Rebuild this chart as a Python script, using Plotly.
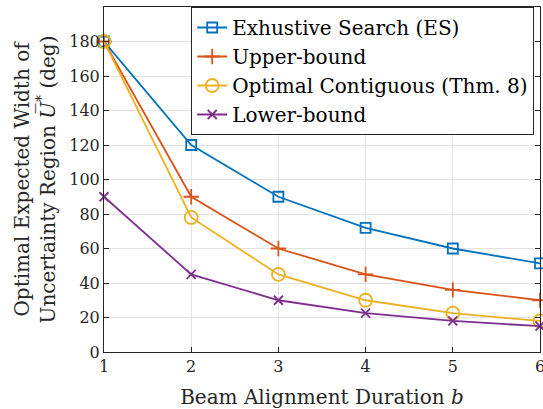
import plotly.graph_objects as go

b = [1, 2, 3, 4, 5, 6]
es = [180, 120, 90, 72, 60, 51.4]
upper = [180, 90, 60, 45, 36, 30]
contig = [180, 78, 45, 30, 22.5, 18]
lower = [90, 45, 30, 22.5, 18, 15]

names = ["Exhustive Search (ES)", "Upper-bound", "Optimal Contiguous (Thm. 8)", "Lower-bound"]
colors = ["#0072BD", "#D95319", "#EDB120", "#7E2F8E"]
symbols = ["square-open", "cross-thin-open", "circle-open", "x-thin-open"]
sizes = [10, 11, 13, 9]
series = [es, upper, contig, lower]

font = "DejaVu Serif"
fig = go.Figure()
for i, (nm, ys) in enumerate(zip(names, series)):
    fig.add_trace(go.Scatter(
        x=b, y=ys, name=nm, mode="lines+markers", legendgroup=str(i), cliponaxis=False,
        line=dict(color=colors[i], width=1.8),
        marker=dict(symbol=symbols[i], size=sizes[i], color=colors[i],
                    line=dict(color=colors[i], width=1.8)),
    ))

axcommon = dict(showline=True, linecolor="#262626", linewidth=1, mirror="ticks",
                ticks="inside", ticklen=5, tickcolor="#262626", automargin=False,
                ticklabeloverflow="allow",
                showgrid=True, gridcolor="#e3e3e3", gridwidth=1, zeroline=False,
                tickfont=dict(family=font, size=16, color="#262626"))
fig.update_xaxes(range=[1, 6], tickvals=b, ticktext=[str(v) for v in b],
                 title=dict(text="Beam Alignment Duration <i>b</i>",
                            font=dict(family=font, size=20, color="#262626"), standoff=18),
                 **axcommon)
fig.update_yaxes(range=[0, 200], tickvals=list(range(0, 181, 20)),
                 title=dict(text="Optimal Expected Width of<br>Uncertainty Region <i>U̅</i><sup>*</sup> (deg)",
                            font=dict(family=font, size=20, color="#262626"), standoff=8),
                 **axcommon)
fig.update_layout(
    width=543, height=409, margin=dict(l=104, r=3, t=7, b=57, autoexpand=False),
    plot_bgcolor="white", paper_bgcolor="white",
    legend=dict(x=0.2, y=1, xanchor="left", yanchor="top", bgcolor="white",
                bordercolor="#262626", borderwidth=1, tracegroupgap=0, itemwidth=30,
                font=dict(family=font, size=20, color="black")),
)
fig.write_html("out.html", config={"displayModeBar": False},
               post_script="document.body.style.margin='0px';")
